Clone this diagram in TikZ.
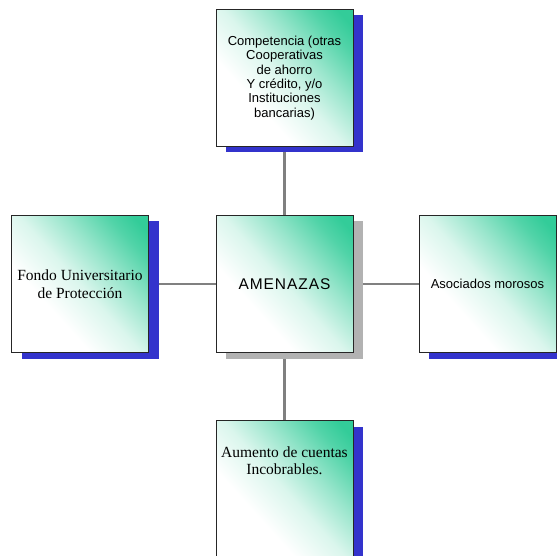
\documentclass[tikz,border=0pt]{standalone}
\usepackage{fontspec}
\setmainfont{Liberation Serif}
\setsansfont{Liberation Sans}
\usetikzlibrary{shadows}

\pgfdeclarelayer{background}
\pgfsetlayers{background,main}

\definecolor{boxgreen}{RGB}{51,204,153}
\definecolor{shadowblue}{RGB}{51,51,204}
\definecolor{shadowgray}{RGB}{178,178,178}
\definecolor{linkgray}{RGB}{128,128,128}

% white in the lower left, fading to green in the upper right corner
% (a path covers only the middle part of the 100bp shading axis)
\pgfdeclareverticalshading{greenfade}{100bp}{%
  color(0bp)=(white); color(36bp)=(white);
  color(50bp)=(boxgreen!18!white); color(62bp)=(boxgreen!50!white);
  color(74bp)=(boxgreen!85!white); color(81bp)=(boxgreen);
  color(100bp)=(boxgreen)}

\tikzset{
  card/.style={rectangle, draw=black!85, line width=1pt, inner sep=0pt,
    minimum width=137pt, minimum height=137pt, align=center,
    shade, shading=greenfade, shading angle=-48},
  blueshadow/.style={general shadow={fill=shadowblue, shadow xshift=10pt, shadow yshift=-6pt}},
  grayshadow/.style={general shadow={fill=shadowgray, shadow xshift=10pt, shadow yshift=-6pt}},
  sanstext/.style={font=\sffamily\fontsize{13}{14.3}\selectfont},
  seriftext/.style={font=\rmfamily\fontsize{15.5}{17.7}\selectfont},
  titletext/.style={font=\sffamily\addfontfeature{LetterSpace=6}\fontsize{15.5}{18}\selectfont},
  link/.style={draw=linkgray, line width=2.2pt}
}

\begin{document}
\begin{tikzpicture}[x=1pt, y=-1pt]
  \useasboundingbox (0,0) rectangle (557,556);

  \node[card, grayshadow, titletext] (amenazas) at (284.5,284) {AMENAZAS};

  \node[card, blueshadow, sanstext] (competencia) at (284.5,78)
    {Competencia (otras\\Cooperativas\\de ahorro\\Y crédito, y/o\\Instituciones\\bancarias)};

  \node[card, blueshadow, seriftext] (fondo) at (80,284)
    {Fondo Universitario\\de Protección};

  \node[card, blueshadow, sanstext] (morosos) at (487.5,284)
    {Asociados morosos};

  \node[card, blueshadow, seriftext, align=left] (incobrables) at (284.5,489)
    {\parbox[c][137pt][t]{137pt}{\centering\vspace*{26pt}Aumento de cuentas\\Incobrables.}};

  \begin{pgfonlayer}{background}
    \draw[link] (amenazas) -- (competencia);
    \draw[link] (amenazas) -- (fondo);
    \draw[link] (amenazas) -- (morosos);
    \draw[link] (amenazas) -- (incobrables);
  \end{pgfonlayer}
\end{tikzpicture}
\end{document}
